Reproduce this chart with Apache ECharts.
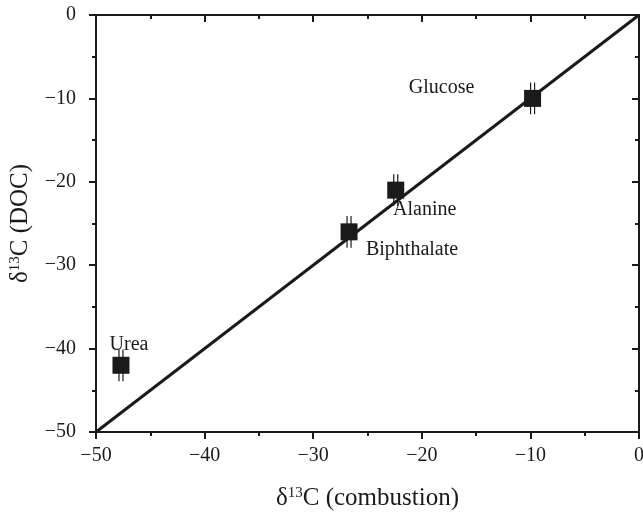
<!DOCTYPE html>
<html lang="en">
  <head>
    <meta charset="UTF-8" />
    <title>d13C DOC vs combustion</title>
    <script src="https://cdn.jsdelivr.net/npm/echarts@6/dist/echarts.min.js"></script>
  </head>

  <body style="margin: 0">
    <div id="main" style="width: 643px; height: 512px"></div>

    <script>
      var names = ["Urea", "Biphthalate", "Alanine", "Glucose"];
      var combustion = [-47.7, -26.7, -22.4, -9.8];
      var doc = [-42, -26, -21, -10];
      var docErr = [1.9, 1.9, 1.9, 1.9];
      var oneToOne = [[-50, -50], [0, 0]];

      // where each compound's name sits relative to its marker (px)
      var labelOffsets = [[8, -21], [63, 18], [29, 20], [-91, -11]];

      var serif = "Liberation Serif";
      var ink = "#1a1a1a";

      function minus(v) {
        return String(v).replace("-", "\u2212");
      }

      var points = names.map(function (n, i) {
        return {
          name: n,
          value: [combustion[i], doc[i]],
          label: { offset: labelOffsets[i] },
        };
      });
      var bars = names.map(function (n, i) {
        return [combustion[i], doc[i] - docErr[i], doc[i] + docErr[i]];
      });

      var baseAxis = {
        min: -50,
        max: 0,
        interval: 10,
        axisLine: { onZero: false, lineStyle: { color: ink, width: 2 } },
        splitLine: { show: false },
      };

      function mainAxis(extra, labelMargin) {
        return Object.assign({}, baseAxis, {
          axisTick: { inside: false, length: 7, lineStyle: { color: ink, width: 2 } },
          minorTick: { show: true, splitNumber: 2, length: 4, lineStyle: { color: ink, width: 2 } },
          axisLabel: {
            fontFamily: serif,
            fontSize: 20,
            color: ink,
            margin: labelMargin,
            formatter: minus,
          },
          nameLocation: "middle",
          nameTextStyle: {
            fontFamily: serif,
            fontSize: 25,
            color: ink,
          },
        }, extra);
      }

      function mirrorAxis(extra) {
        return Object.assign({}, baseAxis, {
          axisTick: { inside: true, length: 7, lineStyle: { color: ink, width: 2 } },
          minorTick: { show: true, splitNumber: 2, length: 4, lineStyle: { color: ink, width: 2 } },
          axisLabel: { show: false },
        }, extra);
      }

      var rich = {
        d: { fontFamily: serif, fontSize: 25, color: ink },
        sup: { fontFamily: serif, fontSize: 15, color: ink, verticalAlign: "top", padding: [0, 0, 10, 0] },
      };

      var myChart = echarts.init(document.getElementById("main"));

      var option = {
        animation: false,
        backgroundColor: "#fff",
        grid: { left: 96, right: 4, top: 15, bottom: 80, outerBoundsMode: "none" },
        xAxis: [
          mainAxis({
            type: "value",
            position: "bottom",
            name: "{d|\u03b4}{sup|13}{d|C (combustion)}",
            nameGap: 54,
            nameTextStyle: { rich: rich },
          }, 14),
          mirrorAxis({ type: "value", position: "top" }),
        ],
        yAxis: [
          mainAxis({
            type: "value",
            position: "left",
            name: "{d|\u03b4}{sup|13}{d|C (DOC)}",
            nameGap: 63,
            nameTextStyle: { rich: rich },
          }, 20),
          mirrorAxis({ type: "value", position: "right" }),
        ],
        series: [
          {
            type: "line",
            data: oneToOne,
            symbol: "none",
            lineStyle: { color: ink, width: 3 },
            z: 2,
          },
          {
            type: "custom",
            data: bars,
            z: 3,
            renderItem: function (params, api) {
              var lo = api.coord([api.value(0), api.value(1)]);
              var hi = api.coord([api.value(0), api.value(2)]);
              var style = { stroke: ink, lineWidth: 1.2 };
              return {
                type: "group",
                children: [-2, 2].map(function (dx) {
                  return {
                    type: "line",
                    shape: { x1: lo[0] + dx, y1: lo[1], x2: hi[0] + dx, y2: hi[1] },
                    style: style,
                  };
                }),
              };
            },
          },
          {
            type: "scatter",
            data: points,
            symbol: "rect",
            symbolSize: 17,
            itemStyle: { color: ink, opacity: 1 },
            z: 4,
            label: {
              show: true,
              position: "inside",
              formatter: "{b}",
              fontFamily: serif,
              fontSize: 20,
              color: ink,
            },
          },
        ],
      };
      myChart.setOption(option);
    </script>
  </body>
</html>
